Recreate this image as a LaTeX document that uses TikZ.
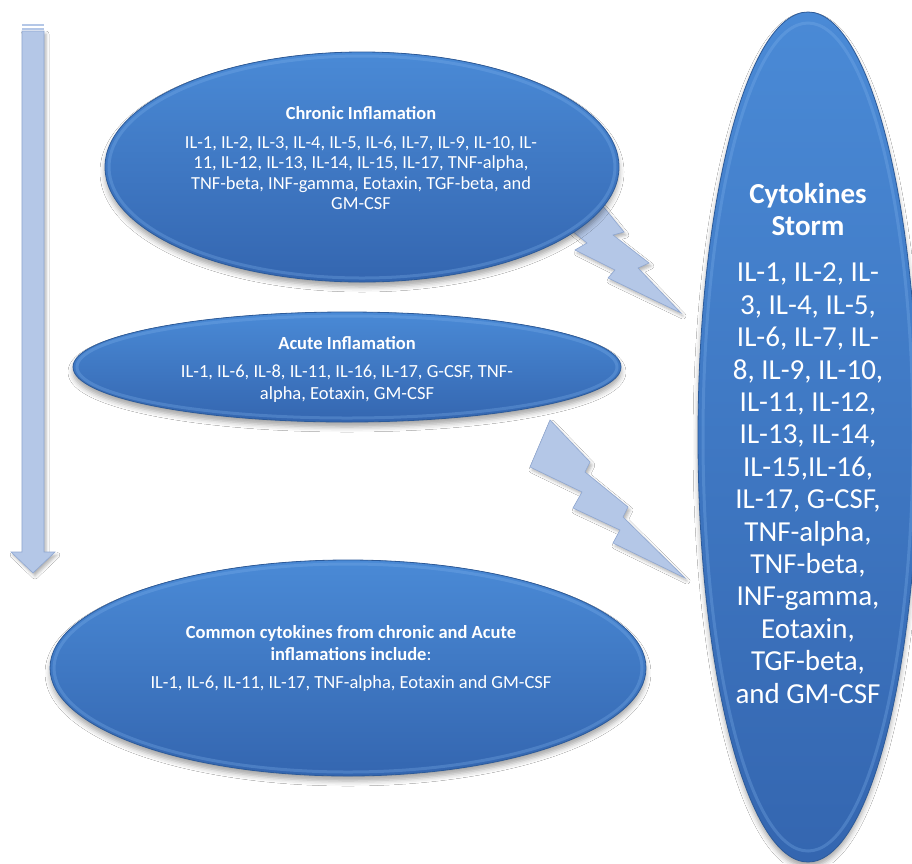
\documentclass[tikz,border=0pt]{standalone}
\usepackage{fontspec}
\setmainfont{Carlito}
\usetikzlibrary{shapes.geometric,shadows.blur}

\definecolor{bluetop}{HTML}{4A8AD6}
\definecolor{bluebot}{HTML}{3466B0}
\definecolor{blueedge}{HTML}{2C5A99}
\definecolor{bluerim}{HTML}{7FB2EC}
\definecolor{boltfill}{HTML}{B4C7E7}
\definecolor{boltedge}{HTML}{8FA7D1}

\begin{document}
\begin{tikzpicture}[x=1pt,y=-1pt,
  bubble/.style={ellipse, inner sep=0pt, draw=blueedge, line width=0.8pt,
    top color=bluetop, bottom color=bluebot,
    blur shadow={shadow xshift=0pt, shadow yshift=-5pt, shadow blur radius=5pt, shadow opacity=35}},
  rim/.style={draw=bluerim, line width=3pt, opacity=0.3},
  bolt/.style={fill=boltfill, draw=boltedge, line width=0.6pt, line join=miter,
    blur shadow={shadow xshift=2pt, shadow yshift=-3pt, shadow blur radius=3pt, shadow opacity=30}},
  smalltxt/.style={text=white, align=center, font=\fontsize{18.4}{20.4}\selectfont, inner sep=0pt},
  bigtxt/.style={text=white, align=center, font=\fontsize{29}{32.4}\selectfont, inner sep=0pt}
]
\useasboundingbox (0,0) rectangle (912,863);
\fill[white] (0,0) rectangle (912,863);

% left down arrow (striped top)
\fill[boltfill] (22,24) rectangle (44,26);
\fill[boltfill] (22,27.5) rectangle (44,29.5);
\draw[bolt] (22,31) -- (44,31) -- (44,552) -- (55,552) -- (33,573) -- (11,552) -- (22,552) -- cycle;

% lightning bolt 1 (behind chronic ellipse)
\draw[bolt] (585,200) -- (602,205) -- (624,232) -- (613,235) -- (649,263) -- (638,268) -- (681,313)
  -- (608,278) -- (615,270) -- (575,250) -- (587,243) -- (565,225) -- cycle;

% Chronic ellipse
\node[bubble, minimum width=514pt, minimum height=230pt] (chronic) at (362,167) {};
\draw[rim] (chronic.center) ellipse [x radius=253pt, y radius=111pt];
\node[smalltxt] (chronictxt) at (361,158) {{\bfseries Chronic Inflamation}\\[9pt]
IL-1, IL-2, IL-3, IL-4, IL-5, IL-6, IL-7, IL-9, IL-10, IL-\\
11, IL-12, IL-13, IL-14, IL-15, IL-17, TNF-alpha,\\
TNF-beta, INF-gamma, Eotaxin, TGF-beta, and\\
GM-CSF};

% lightning bolt 2
\draw[bolt] (550,420) -- (590,462) -- (585,472) -- (628,507) -- (623,517) -- (685,578)
  -- (613,543) -- (620,530) -- (573,508) -- (582,492) -- (530,467) -- cycle;

% Acute ellipse
\node[bubble, minimum width=548pt, minimum height=110pt] (acute) at (347,367) {};
\draw[rim] (acute.center) ellipse [x radius=270pt, y radius=51pt];
\node[smalltxt, font=\fontsize{18.5}{21.5}\selectfont] (acutetxt) at (347,369) {{\bfseries Acute Inflamation}\\[7pt]
IL-1, IL-6, IL-8, IL-11, IL-16, IL-17, G-CSF, TNF-\\
alpha, Eotaxin, GM-CSF};

% Common ellipse
\node[bubble, minimum width=596pt, minimum height=216pt] (common) at (348,668) {};
\draw[rim] (common.center) ellipse [x radius=294pt, y radius=104pt];
\node[smalltxt, font=\fontsize{18.5}{22}\selectfont] (commontxt) at (351,658) {{\bfseries Common cytokines from chronic and Acute}\\
{\bfseries inflamations include}:\\[6pt]
IL-1, IL-6, IL-11, IL-17, TNF-alpha, Eotaxin and GM-CSF};

% Cytokines storm ellipse
\node[bubble, minimum width=220pt, minimum height=850pt] (storm) at (808,437) {};
\draw[rim] (storm.center) ellipse [x radius=105pt, y radius=414pt];
\node[bigtxt] (stormtxt) at (808,443) {{\bfseries Cytokines}\\
{\bfseries Storm}\\[14pt]
IL-1, IL-2, IL-\\
3, IL-4, IL-5,\\
IL-6, IL-7, IL-\\
8, IL-9, IL-10,\\
IL-11, IL-12,\\
IL-13, IL-14,\\
IL-15,IL-16,\\
IL-17, G-CSF,\\
TNF-alpha,\\
TNF-beta,\\
INF-gamma,\\
Eotaxin,\\
TGF-beta,\\
and GM-CSF};
\end{tikzpicture}
\end{document}
